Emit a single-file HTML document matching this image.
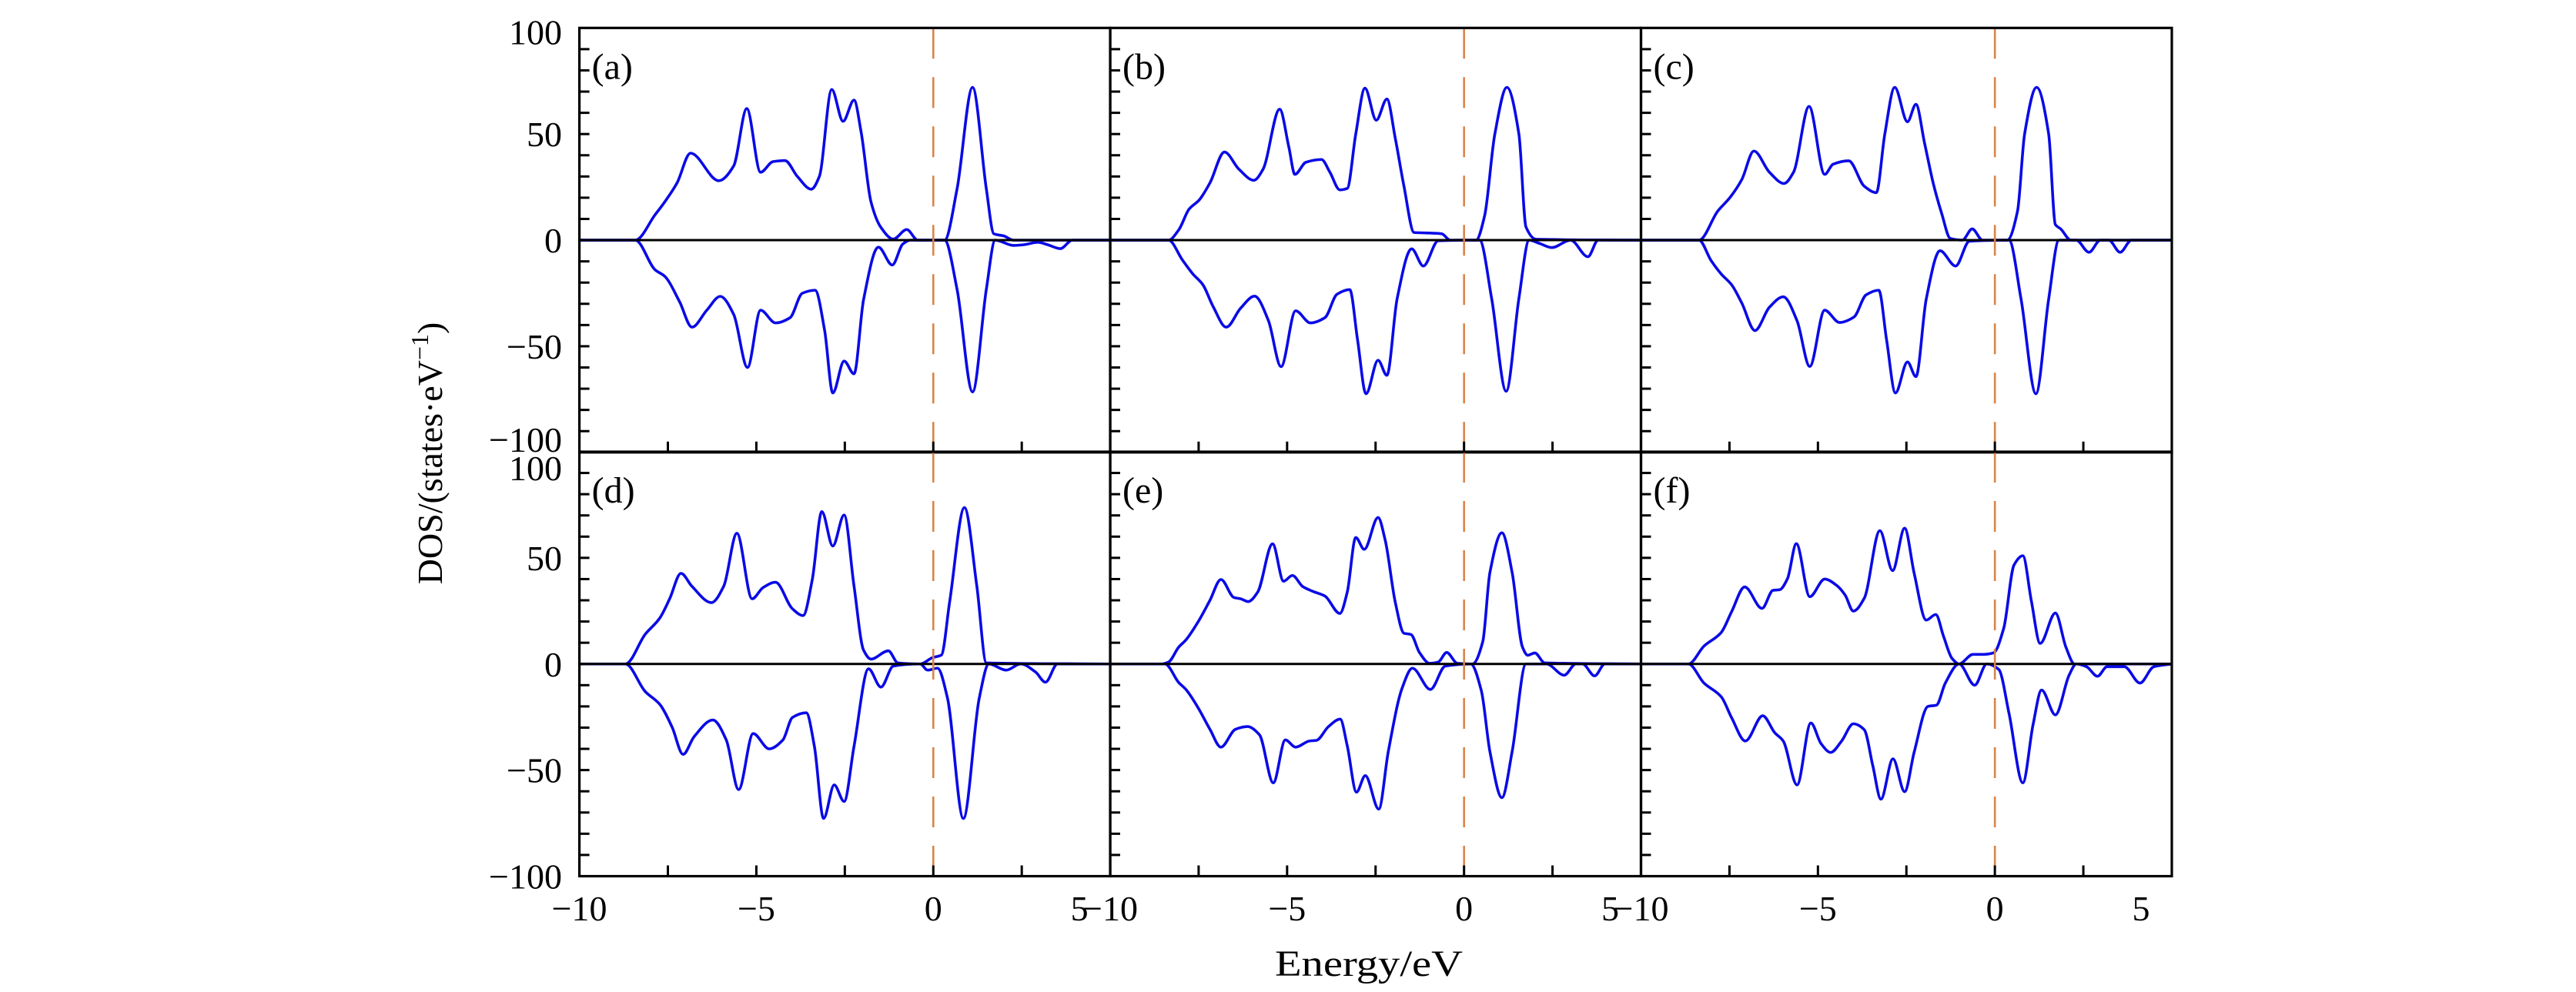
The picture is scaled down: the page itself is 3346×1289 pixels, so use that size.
<!DOCTYPE html>
<html><head><meta charset="utf-8"><style>
html,body{margin:0;padding:0;background:#fff;}
svg{display:block;}
text{font-family:"Liberation Serif","DejaVu Serif",serif;fill:#000;}
</style></head><body>
<svg id="chart" width="3346" height="1289" viewBox="0 0 3346 1289" xmlns="http://www.w3.org/2000/svg">
<defs id="defs"></defs>
<g id="root"></g>
</svg>
<script>
// ===== data (Energy in eV, DOS in states/eV) =====
const panelLabels = ["(a)","(b)","(c)","(d)","(e)","(f)"];
const xTicks = [-10,-5,0,5];
const xTickLabels = ["\u221210","\u22125","0","5"];
const yTicks = [-100,-50,0,50,100];
const yTickLabels = ["\u2212100","\u221250","0","50","100"];

const aUp = [[-10,0],[-8.42,0],[-7.86,12],[-7.59,18],[-7.24,27],[-6.86,41],[-6.06,28],[-5.64,35],[-5.27,62],[-4.88,32],[-4.53,37],[-4.19,37.5],[-3.84,30],[-3.45,24],[-3.22,30],[-2.87,71],[-2.55,56],[-2.24,66],[-2.04,51],[-1.76,18],[-1.48,6],[-1.13,0.5],[-0.75,5],[-0.44,0],[0.32,0],[0.67,24],[1.11,72],[1.5,24],[1.71,3],[1.99,2],[2.27,0],[5,0]];
const aDn = [[-10,0],[-8.42,0],[-7.86,-14],[-7.59,-17],[-7.17,-29],[-6.82,-41],[-6.4,-33],[-6.02,-26.5],[-5.64,-35],[-5.25,-60],[-4.88,-33],[-4.46,-39],[-4.05,-36.6],[-3.7,-25],[-3.34,-23.6],[-3.07,-42.6],[-2.84,-72],[-2.52,-57],[-2.24,-63],[-1.97,-28],[-1.55,-3.3],[-1.16,-11.7],[-0.86,-1.8],[-0.65,0],[0.32,0],[0.67,-23],[1.11,-71.5],[1.5,-23],[1.75,0],[2.27,-2.5],[2.54,-2.2],[2.96,-1],[3.24,-2.2],[3.59,-4],[3.93,0],[5,0]];
const bUp = [[-10,0],[-8.35,0],[-8.06,4.9],[-7.77,14.6],[-7.48,19],[-7.18,27],[-6.77,41.5],[-6.36,33.4],[-5.94,28.2],[-5.68,33.4],[-5.21,61.7],[-4.95,43.8],[-4.78,31],[-4.47,36.7],[-4.03,38],[-3.79,32],[-3.51,23.7],[-3.3,24.4],[-3.06,50],[-2.8,71.6],[-2.48,56.5],[-2.18,66.5],[-1.94,47.7],[-1.7,25.6],[-1.41,3.6],[-1.07,3.4],[-0.63,3],[-0.39,0],[0.34,0],[0.58,11.4],[0.87,50],[1.21,72],[1.55,50],[1.75,6.2],[2.04,0.4],[5,0]];
const bDn = [[-10,0],[-8.35,0],[-7.96,-9.3],[-7.67,-15.8],[-7.38,-21],[-7.09,-31.3],[-6.72,-41],[-6.31,-32],[-5.92,-26.4],[-5.53,-37.8],[-5.17,-59.6],[-4.76,-33.3],[-4.34,-39],[-3.93,-36.5],[-3.59,-25.5],[-3.23,-23.3],[-3.01,-46.9],[-2.77,-72.4],[-2.43,-56.6],[-2.18,-63.7],[-1.89,-27.5],[-1.48,-4.1],[-1.15,-12.2],[-0.73,-0.3],[0.44,0],[0.78,-27.5],[1.19,-71.2],[1.55,-27.5],[1.84,0],[2.14,-1.6],[2.48,-3.5],[3.01,0],[3.5,-7.8],[3.79,0],[5,0]];
const cUp = [[-10,0],[-8.36,0],[-7.83,13.7],[-7.49,20],[-7.15,28.6],[-6.81,42],[-6.37,32],[-5.96,26.7],[-5.69,32],[-5.25,63],[-4.81,31],[-4.57,35.8],[-4.13,37.4],[-3.69,25.4],[-3.35,22.4],[-3.11,50],[-2.83,72],[-2.47,55.8],[-2.23,64],[-1.99,46],[-1.74,26.7],[-1.5,12.4],[-1.26,0.8],[-0.92,0],[-0.64,5.3],[-0.35,0],[0.35,0],[0.64,13.7],[0.84,50],[1.18,72],[1.52,50],[1.71,7.3],[1.86,5.3],[2.15,0],[5,0]];
const cDn = [[-10,0],[-8.36,0],[-8.02,-9.6],[-7.73,-16],[-7.44,-21],[-7.15,-29.7],[-6.78,-42.6],[-6.37,-31.6],[-5.98,-26.7],[-5.59,-38],[-5.23,-59.5],[-4.81,-33],[-4.39,-38.8],[-3.98,-36.2],[-3.64,-25.8],[-3.28,-23.6],[-3.06,-47],[-2.81,-72],[-2.47,-57.4],[-2.23,-64.3],[-1.94,-27.8],[-1.55,-5],[-1.11,-12.2],[-0.72,-0.5],[0.4,0],[0.74,-27.8],[1.16,-72.4],[1.52,-27.8],[1.81,0],[2.3,0],[2.66,-5.7],[2.98,0],[3.22,0],[3.54,-5.7],[3.86,0],[5,0]];
const dUp = [[-10,0],[-8.7,0],[-8.14,14],[-7.73,21.6],[-7.45,30.7],[-7.13,42.7],[-6.82,36.6],[-6.27,28.9],[-5.92,36.7],[-5.55,61.6],[-5.12,30.7],[-4.81,36],[-4.46,38.5],[-3.98,26],[-3.68,22.8],[-3.42,39.7],[-3.15,71.8],[-2.84,55.6],[-2.52,70.2],[-2.24,36.7],[-1.97,6.5],[-1.76,2.3],[-1.27,6.2],[-1,0.5],[-0.37,0],[-0.02,3],[0.23,4.2],[0.46,29],[0.88,73.7],[1.23,36.7],[1.5,0.5],[5,0]];
const dDn = [[-10,0],[-8.7,0],[-8.14,-13],[-7.73,-19],[-7.38,-29.8],[-7.07,-42.6],[-6.76,-34.3],[-6.23,-26.4],[-5.85,-35.8],[-5.5,-59.2],[-5.09,-32.8],[-4.64,-40],[-4.25,-35.8],[-3.98,-25.2],[-3.59,-23],[-3.36,-38.8],[-3.1,-72.8],[-2.8,-57],[-2.52,-64.8],[-2.24,-38.8],[-1.83,-2.3],[-1.48,-10.9],[-1.13,-1],[-0.37,0],[-0.16,-2.9],[0.12,-2],[0.4,-16],[0.85,-72.8],[1.3,-16],[1.57,0],[2.06,-2.9],[2.47,0],[2.89,-3.8],[3.17,-8.6],[3.51,0],[5,0]];
const eUp = [[-10,0],[-8.54,0],[-8.35,0.9],[-8.06,8],[-7.86,11.3],[-7.52,19.7],[-7.18,30],[-6.87,39.8],[-6.5,31.3],[-6.31,30.7],[-6.1,29.4],[-5.83,33.9],[-5.41,56.6],[-5.1,39],[-4.85,41.7],[-4.56,36.5],[-4.27,34.2],[-3.93,32],[-3.51,23.8],[-3.3,33.9],[-3.06,59.6],[-2.82,54],[-2.43,69],[-2.23,58.5],[-1.94,28.8],[-1.7,14.5],[-1.5,13.9],[-1.26,5.4],[-0.97,0.3],[-0.73,0.9],[-0.49,5.4],[-0.19,0.3],[0.24,0],[0.53,10.6],[0.73,43],[1.07,61.8],[1.36,43],[1.65,8],[1.8,4.1],[2,5.2],[2.28,0.5],[5,0]];
const eDn = [[-10,0],[-8.45,0],[-8.06,-8.8],[-7.86,-12],[-7.52,-20.5],[-7.18,-30.8],[-6.87,-39.2],[-6.46,-30.8],[-6.12,-29.5],[-5.78,-33.4],[-5.39,-56],[-5.05,-35.8],[-4.76,-39.2],[-4.37,-36.3],[-4.17,-36],[-3.83,-29.5],[-3.5,-26],[-3.3,-38.6],[-3.04,-60.4],[-2.79,-52.6],[-2.41,-68.4],[-2.14,-41.2],[-1.75,-11.4],[-1.46,-2],[-0.95,-12],[-0.53,-1],[0.19,0],[0.49,-12.7],[0.73,-41.2],[1.07,-63],[1.36,-41.2],[1.75,0],[2.33,0],[2.83,-5.3],[3.16,0],[3.35,0],[3.69,-5.6],[3.98,0],[5,0]];
const fUp = [[-10,0],[-8.66,0],[-8.22,8.4],[-7.73,14.9],[-7.44,24.6],[-7.07,36.3],[-6.58,26.2],[-6.27,34.7],[-6.08,35],[-5.86,40.2],[-5.61,56.7],[-5.23,31.7],[-4.81,40],[-4.47,37],[-4.23,32.4],[-4,24.9],[-3.69,31],[-3.25,62.8],[-2.89,44],[-2.55,64],[-2.28,42.7],[-1.94,20.7],[-1.67,23.3],[-1.45,13],[-1.21,2.6],[-1.01,0],[-0.62,4.5],[-0.33,4.5],[-0.04,5.2],[0.25,16.8],[0.54,46.6],[0.79,51],[1.03,29.8],[1.28,9.7],[1.71,24],[2.01,7.8],[2.25,0],[5,0]];
const fDn = [[-10,0],[-8.66,0],[-8.22,-9],[-7.73,-15.5],[-7.44,-25.3],[-7.05,-36.3],[-6.56,-24.4],[-6.22,-32.4],[-5.98,-36.3],[-5.59,-57],[-5.2,-27.8],[-4.91,-37.6],[-4.64,-41.7],[-4.33,-36.3],[-4,-28.2],[-3.69,-31],[-3.45,-47.9],[-3.22,-63.7],[-2.88,-44.7],[-2.55,-60.2],[-2.28,-41.5],[-1.89,-20],[-1.65,-19.4],[-1.4,-9],[-1.01,0],[-0.57,-10],[-0.23,0],[0.11,-2.6],[0.4,-23.3],[0.79,-56],[1.08,-28.5],[1.32,-12.3],[1.71,-24],[2.1,-5.2],[2.3,0],[2.59,-1.3],[2.9,-5.8],[3.17,-1.3],[3.66,-1.3],[4.1,-9],[4.49,-1.3],[5,0]];
const upSeries = [aUp,bUp,cUp,dUp,eUp,fUp];
const dnSeries = [aDn,bDn,cDn,dDn,eDn,fDn];
const fermiLevel = 0;

// ===== layout =====
const NS = "http://www.w3.org/2000/svg";
const root = document.getElementById('root');
const defs = document.getElementById('defs');
const PL = [752.6, 1442, 2131.5], PW = 689.5;
const PT = [36.3, 587], PH = 551.5;
const XMIN=-10, XMAX=5, YMIN=-100, YMAX=100;
function mk(tag, attrs, parent){ const e=document.createElementNS(NS,tag); for(const k in attrs) e.setAttribute(k,attrs[k]); (parent||root).appendChild(e); return e; }
// monotone cubic (Fritsch-Carlson) path through pixel points sorted by x
function smoothPath(pts){
  const n=pts.length, dx=[], s=[], m=new Array(n).fill(0);
  for(let i=0;i<n-1;i++){ dx[i]=pts[i+1][0]-pts[i][0]; s[i]=(pts[i+1][1]-pts[i][1])/dx[i]; }
  m[0]=s[0]; m[n-1]=s[n-2];
  for(let i=1;i<n-1;i++){
    if(s[i-1]*s[i]<=0) m[i]=0;
    else { const w1=2*dx[i]+dx[i-1], w2=dx[i]+2*dx[i-1]; m[i]=(w1+w2)/(w1/s[i-1]+w2/s[i]); }
  }
  let d=`M${pts[0][0].toFixed(2)},${pts[0][1].toFixed(2)}`;
  for(let i=0;i<n-1;i++){
    const h=dx[i]/3;
    d+=` C${(pts[i][0]+h).toFixed(2)},${(pts[i][1]+m[i]*h).toFixed(2)} ${(pts[i+1][0]-h).toFixed(2)},${(pts[i+1][1]-m[i+1]*h).toFixed(2)} ${pts[i+1][0].toFixed(2)},${pts[i+1][1].toFixed(2)}`;
  }
  return d;
}
for(let p=0;p<6;p++){
  const col=p%3, row=Math.floor(p/3);
  const x0=PL[col], y0=PT[row];
  const xs = v => x0 + (v-XMIN)/(XMAX-XMIN)*PW;
  const ys = v => y0 + (YMAX-v)/(YMAX-YMIN)*PH;
  const g = mk('g',{});
  
  
  const cp = mk('clipPath',{id:'clip'+p}, defs);
  mk('rect',{x:x0,y:y0,width:PW,height:PH},cp);
  const up = mk('path',{d:smoothPath(upSeries[p].map(q=>[xs(q[0]),ys(q[1])])),fill:'none',stroke:'#0a0ae6','stroke-width':3.6,'stroke-linejoin':'round','clip-path':`url(#clip${p})`},g);
  
  
  const dn = mk('path',{d:smoothPath(dnSeries[p].map(q=>[xs(q[0]),ys(q[1])])),fill:'none',stroke:'#0a0ae6','stroke-width':3.6,'stroke-linejoin':'round','clip-path':`url(#clip${p})`},g);
  
  
  const zl = mk('line',{x1:x0,x2:x0+PW,y1:ys(0),y2:ys(0),stroke:'#000','stroke-width':3},g);
  
  
  const fl = mk('line',{x1:xs(fermiLevel),x2:xs(fermiLevel),y1:y0,y2:y0+PH,stroke:'#d8844a','stroke-width':2.6,'stroke-dasharray':'40 24'},g);
  
  
  for(let v=-90; v<=90; v+=10){
    const t = mk('line',{x1:x0,x2:x0+13,y1:ys(v),y2:ys(v),stroke:'#000','stroke-width':3},g);
    
    
  }
  for(let v=-7.5; v<5; v+=2.5){
    const t = mk('line',{x1:xs(v),x2:xs(v),y1:y0+PH,y2:y0+PH-14,stroke:'#000','stroke-width':3},g);
    
    
  }
  const fr = mk('rect',{x:x0,y:y0,width:PW,height:PH,fill:'none',stroke:'#000','stroke-width':3.2},g);
  
  
  const lb = mk('text',{x:x0+16,y:y0+66,'font-size':48},g);
  lb.textContent = panelLabels[p];
  
  
  if(col===0){
    yTicks.forEach((v,i)=>{
      let yy = ys(v);
      if(row===0 && v===100) yy+=5;
      if(row===0 && v===-100) yy-=17;
      if(row===1 && v===100) yy+=21;
      const t = mk('text',{x:730,y:yy+16,'font-size':46,'text-anchor':'end'},g);
      t.textContent = yTickLabels[i];
      
      
    });
  }
  if(row===1){
    xTicks.forEach((v,i)=>{
      let xx = xs(v);
      if(v===5) xx -= 40;
      const t = mk('text',{x:xx,y:1196,'font-size':46,'text-anchor':'middle'},g);
      t.textContent = xTickLabels[i];
      
      
    });
  }
}
const xl = mk('text',{x:1778,y:1268,'font-size':48,'text-anchor':'middle',textLength:244,lengthAdjust:'spacingAndGlyphs'});
xl.textContent = 'Energy/eV';


const yl = mk('text',{x:0,y:0,'font-size':46,'text-anchor':'middle',transform:'translate(574,589) rotate(-90)'});


yl.appendChild(document.createTextNode('DOS/(states\u00B7eV'));
const sup = mk('tspan',{'font-size':32,dy:-18},yl);
sup.textContent = '\u22121';
const cl = mk('tspan',{'font-size':46,dy:18},yl);
cl.textContent = ')';
</script>
</body></html>
